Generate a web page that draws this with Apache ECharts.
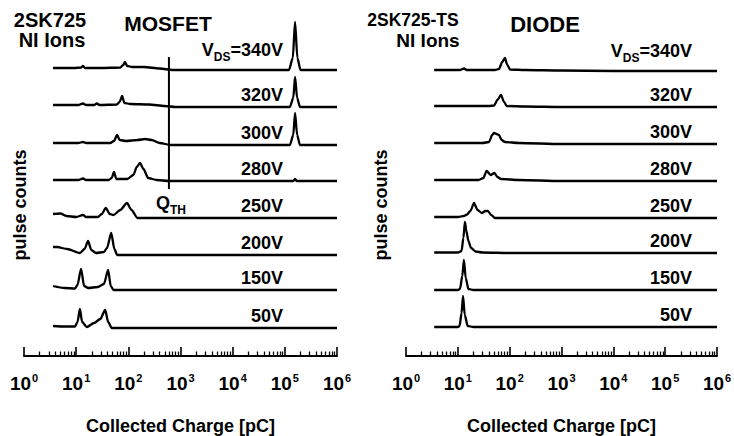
<!DOCTYPE html>
<html><head><meta charset="utf-8">
<script src="https://cdn.jsdelivr.net/npm/echarts@6/dist/echarts.min.js"></script>
<style>html,body{margin:0;padding:0;background:#fff}#c{width:734px;height:436px}</style>
</head><body><div id="c"></div>
<script>
// ---- data (charge [pC], pulse counts in arbitrary units) ----
const voltageLabels = ['340V', '320V', '300V', '280V', '250V', '200V', '150V', '50V'];
const decadeTicks = [1, 10, 100, 1000, 10000, 100000, 1000000];

const mos340 = [[3.6,2],[9,2],[12.5,2.5],[13.5,4],[14.8,2],[30,2],[70,2.5],[80,5],[86,8],[95,4],[120,3],[200,3],[400,1.5],[700,0],[1.2e5,0],[1.42e5,12],[1.57e5,48],[1.74e5,12],[2.0e5,0],[1e6,0]];
const mos320 = [[3.6,2],[11,2],[13.5,3.5],[15.5,2],[22,2],[25,3.5],[28,2],[60,2.5],[68,5],[76,11],[84,4],[110,3],[250,2.5],[500,1],[800,0],[1.25e5,0],[1.45e5,9],[1.57e5,30],[1.72e5,9],[1.95e5,0],[1e6,0]];
const mos300 = [[3.6,2],[11,2],[13.5,3],[15.5,2],[45,2],[53,4],[61,10],[68,5],[90,4],[150,5],[209,6],[280,5],[400,2],[650,0],[1.25e5,0],[1.45e5,10],[1.57e5,32],[1.72e5,10],[1.95e5,0],[1e6,0]];
const mos280 = [[3.6,1],[11,1],[13.5,2.5],[15.5,1],[42,1],[48,3],[53,9],[59,2],[95,2],[125,6],[145,14],[167,18],[195,12],[240,3],[350,1],[600,0],[1.45e5,0],[1.57e5,2],[1.7e5,0],[1e6,0]];
const mos250 = [[3.6,4],[5,4.5],[6.5,2],[10,1],[13.5,3],[15.5,1],[26,1],[31,4],[37,10],[44,4],[52,3],[70,8],[94,15],[115,8],[150,0],[1e6,0]];
const mos200 = [[3.6,8],[4.3,8],[6.7,6],[11.8,2],[14.5,6],[16.9,14],[19.5,5],[24,2],[34,3],[39,7],[47,22],[54,6],[61,0],[1e6,0]];
const mos150 = [[3.6,4],[6,2],[9.5,1.5],[10.6,5],[12.4,21],[14.2,4],[17,2],[26,3],[34,6],[41,20],[46,4],[52,0],[1e6,0]];
const mos50  = [[3.6,2],[6,1.5],[9.5,1.5],[10.6,6],[11.8,19],[13,6],[16,1],[22,5],[29,9],[36,18],[41,6],[48,0],[1e6,0]];

const dio340 = [[3.5,1],[11,1],[13.2,2.5],[14.8,1],[52,1],[62,2],[72,9],[81,13],[90,6],[102,1.5],[200,1],[1000,0.5],[1e4,0],[1e6,0]];
const dio320 = [[3.5,1],[40,1],[50,1.5],[58,7],[68,12],[78,5],[88,1],[200,0.5],[1000,0],[1e6,0]];
const dio300 = [[3.5,1],[30,1],[40,2],[46,9],[50,11],[56,10],[62,9],[70,4],[81,2],[150,1],[1000,0],[1e6,0]];
const dio280 = [[3.5,1],[25,1],[31,3],[36,10],[43,6],[51,8],[58,4],[68,2],[150,1],[1000,0],[1e6,0]];
const dio250 = [[3.5,1],[10,1],[13,2],[15,3.5],[17.5,7],[20.5,15],[24,8],[29,5],[34,7],[38,7],[44,3],[52,0],[1e6,0]];
const dio200 = [[3.5,0.5],[10,0.5],[11.8,2],[12.8,15],[13.7,31],[14.6,22],[16,12],[18,5],[22,1.5],[30,0.5],[100,0],[1e6,0]];
const dio150 = [[3.5,0],[10,0],[11,1],[12.2,14],[13.1,30],[14.2,12],[16,1],[20,0],[1e6,0]];
const dio50  = [[3.5,0],[10,0],[10.8,1],[11.8,14],[12.6,31],[13.6,12],[15.5,1],[20,0],[1e6,0]];

const qthCharge = 600;
const qthLine = [[qthCharge, 0], [qthCharge, 1]];

const mosfetTraces = [mos340, mos320, mos300, mos280, mos250, mos200, mos150, mos50];
const diodeTraces  = [dio340, dio320, dio300, dio280, dio250, dio200, dio150, dio50];

// ---- layout ----
const FONT = '"Liberation Sans", Arial, Helvetica, sans-serif';
const AXIS_Y = 356;
const TRACE_H = 60;
const minorLog = [];
for (let k = 0; k < 6; k++) for (let m = 2; m <= 9; m++) minorLog.push(k + Math.log10(m));

const panels = [
  { left: 24, width: 313, baselines: [70,107,145,181,218,255,290,328], traces: mosfetTraces, labelRight: 283 },
  { left: 406, width: 311, baselines: [71,107,144,181,218,253,290,327], traces: diodeTraces, labelRight: 692 }
];

const grids = [], xAxes = [], yAxes = [], series = [], graphics = [];
const black = '#000';

panels.forEach((p, pi) => {
  const gi = grids.length;
  grids.push({ left: p.left, width: p.width, top: AXIS_Y - 40, height: 40, outerBoundsMode: 'none' });
  xAxes.push({
    type: 'log', logBase: 10, gridIndex: gi, min: 1, max: 1e6, position: 'bottom',
    axisLine: { show: true, onZero: false, lineStyle: { color: black, width: 2 } },
    axisTick: { show: true, inside: true, length: 9, lineStyle: { color: black, width: 1.6 } },
    splitLine: { show: false }, minorTick: { show: false },
    axisLabel: {
      show: true, margin: 16, color: black,
      formatter: v => '{b|10}{s|' + Math.round(Math.log10(v)) + '}',
      rich: {
        b: { fontSize: 19, fontWeight: 'bold', fontFamily: FONT, color: black, lineHeight: 21, verticalAlign: 'bottom' },
        s: { fontSize: 11, fontWeight: 'bold', fontFamily: FONT, color: black, verticalAlign: 'top', lineHeight: 21, padding: [0, 0, 0, 1] }
      }
    },
    name: 'Collected Charge [pC]', nameLocation: 'middle', nameGap: 61,
    nameTextStyle: { fontSize: 18, fontWeight: 'bold', fontFamily: FONT, color: black }
  });
  xAxes.push({
    type: 'value', gridIndex: gi, min: 0, max: 6, position: 'bottom',
    axisLine: { show: false, onZero: false },
    axisTick: { show: true, inside: true, length: 4.5, customValues: minorLog, lineStyle: { color: black, width: 1.3 } },
    axisLabel: { show: false }, splitLine: { show: false }
  });
  yAxes.push({ type: 'value', gridIndex: gi, min: 0, max: 1, show: false });

  p.traces.forEach((tr, ti) => {
    const base = p.baselines[ti];
    const g = grids.length;
    grids.push({ left: p.left, width: p.width, top: base - TRACE_H, height: TRACE_H, outerBoundsMode: 'none' });
    const xi = xAxes.length;
    xAxes.push({ type: 'log', logBase: 10, gridIndex: g, min: 1, max: 1e6, show: false });
    const yi = yAxes.length;
    yAxes.push({ type: 'value', gridIndex: g, min: 0, max: TRACE_H, show: false });
    series.push({
      type: 'line', name: (pi === 0 ? 'MOSFET ' : 'DIODE ') + voltageLabels[ti],
      xAxisIndex: xi, yAxisIndex: yi, data: tr, showSymbol: false, symbol: 'none',
      smooth: 0.25, smoothMonotone: 'x', clip: false, silent: true,
      lineStyle: { color: black, width: 2.3 }
    });
    const isTop = ti === 0;
    graphics.push({
      type: 'text',
      x: p.labelRight, y: isTop ? base - 7 : base - 3,
      style: {
        text: isTop ? '{m|V}{u|DS}{m|=' + voltageLabels[ti] + '}' : voltageLabels[ti],
        align: 'right', verticalAlign: 'bottom',
        font: 'bold 18px ' + FONT, fill: black,
        rich: {
          m: { fontSize: 18, fontWeight: 'bold', fontFamily: FONT, fill: black, color: black, verticalAlign: 'top', lineHeight: 22 },
          u: { fontSize: 12, fontWeight: 'bold', fontFamily: FONT, fill: black, color: black, verticalAlign: 'bottom', lineHeight: 22 }
        }
      }
    });
  });
});

// Q_TH threshold line (left panel)
const qg = grids.length;
grids.push({ left: panels[0].left, width: panels[0].width, top: 57, height: 132, outerBoundsMode: 'none' });
const qx = xAxes.length;
xAxes.push({ type: 'log', logBase: 10, gridIndex: qg, min: 1, max: 1e6, show: false });
const qy = yAxes.length;
yAxes.push({ type: 'value', gridIndex: qg, min: 0, max: 1, show: false });
series.push({ type: 'line', name: 'QTH', xAxisIndex: qx, yAxisIndex: qy, data: qthLine, showSymbol: false, symbol: 'none', clip: false, silent: true, lineStyle: { color: black, width: 2 } });

function txt(x, y, text, size, align) {
  return { type: 'text', x: x, y: y, style: { text: text, font: 'bold ' + size + 'px ' + FONT, fill: black, align: align || 'center', verticalAlign: 'middle' } };
}
graphics.push(txt(50, 20, '2SK725', 20));
graphics.push(txt(52, 40, 'NI Ions', 20));
graphics.push(txt(168, 23, 'MOSFET', 21));
graphics.push(txt(413, 20, '2SK725-TS', 17.5));
graphics.push(txt(428, 40, 'NI Ions', 19));
graphics.push(txt(545, 24, 'DIODE', 22));
graphics.push({ type: 'text', x: 20, y: 205, rotation: Math.PI / 2, style: { text: 'pulse counts', font: 'bold 18px ' + FONT, fill: black, align: 'center', verticalAlign: 'middle' } });
graphics.push({ type: 'text', x: 381, y: 205, rotation: Math.PI / 2, style: { text: 'pulse counts', font: 'bold 18px ' + FONT, fill: black, align: 'center', verticalAlign: 'middle' } });
graphics.push({
  type: 'text', x: 171, y: 205,
  style: {
    text: '{q|Q}{t|TH}', align: 'center', verticalAlign: 'middle', fill: black,
    rich: {
      q: { fontSize: 18, fontWeight: 'bold', fontFamily: FONT, fill: black, color: black, verticalAlign: 'top', lineHeight: 22 },
      t: { fontSize: 12, fontWeight: 'bold', fontFamily: FONT, fill: black, color: black, verticalAlign: 'bottom', lineHeight: 22 }
    }
  }
});

const chart = echarts.init(document.getElementById('c'), null, { renderer: 'svg', width: 734, height: 436 });
chart.setOption({
  animation: false,
  backgroundColor: '#fff',
  grid: grids, xAxis: xAxes, yAxis: yAxes, series: series, graphic: graphics
});
</script></body></html>
